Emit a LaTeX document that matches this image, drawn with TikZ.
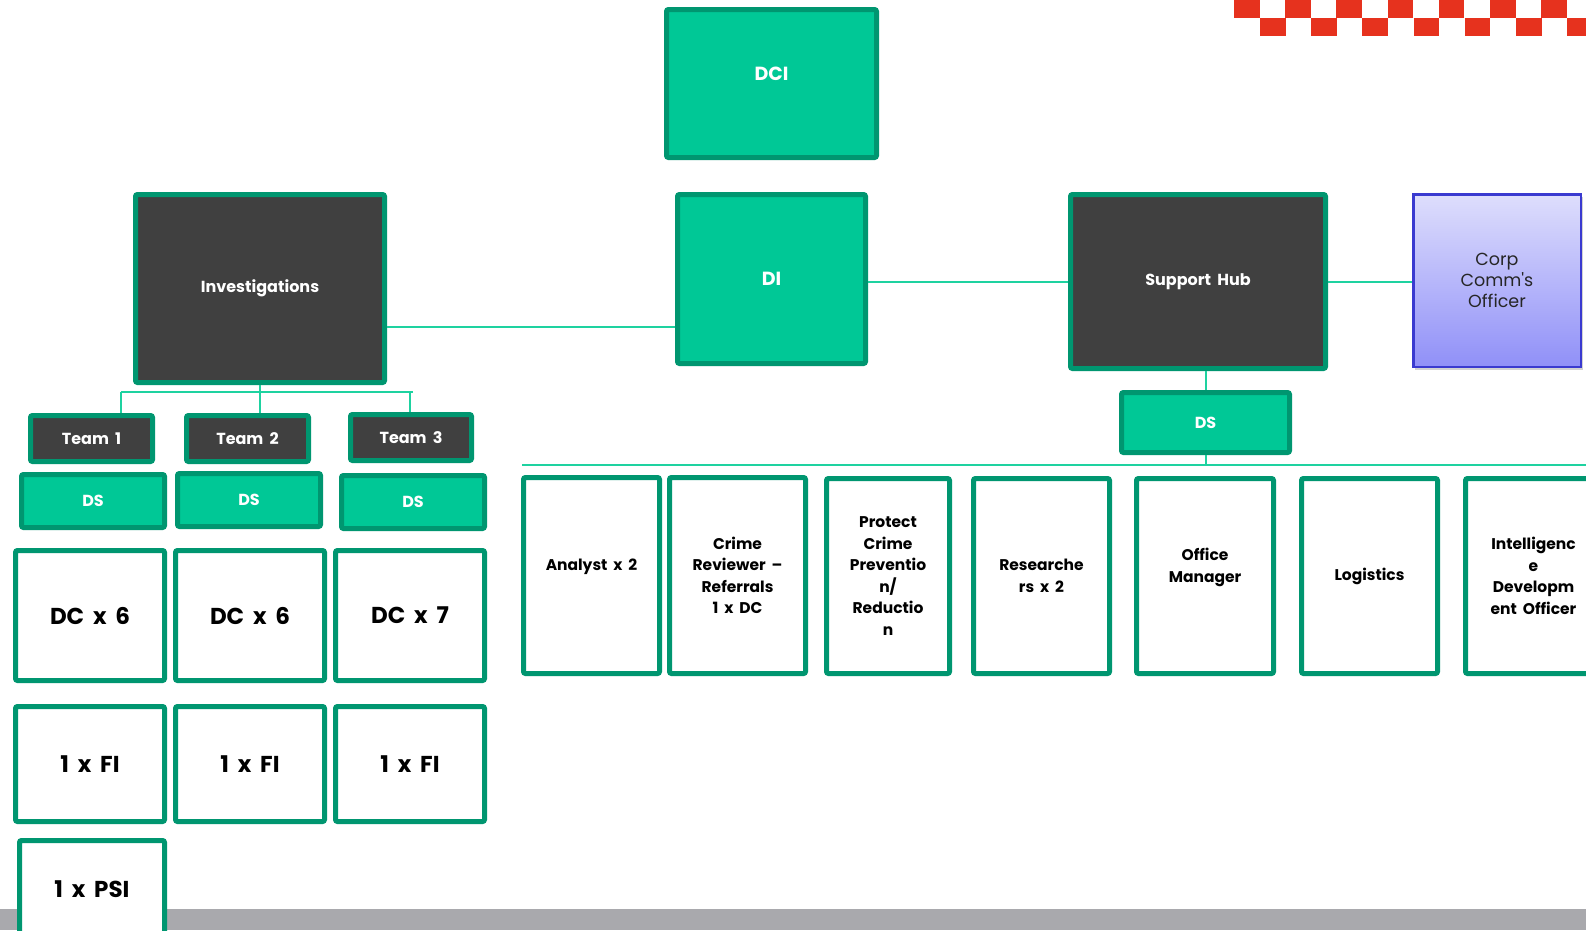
\documentclass[tikz,border=0pt]{standalone}
\usepackage{fontspec}
\setmainfont{Poppins}[WordSpace=1.8]
\newfontfamily\corpfont{Poppins}[Ligatures=TeXOff, WordSpace=1.3]
\usetikzlibrary{shadows}
\definecolor{gfill}{HTML}{00C896}
\definecolor{gline}{HTML}{009670}
\definecolor{conn}{HTML}{1ED2A0}
\definecolor{darkf}{HTML}{404040}
\definecolor{cred}{HTML}{E6321E}
\definecolor{barg}{HTML}{A9A9AD}
\definecolor{cblue}{HTML}{3A3AD0}
\definecolor{ctop}{HTML}{DEDEFC}
\definecolor{cbot}{HTML}{9090F8}
\tikzset{
  basebox/.style={line width=5pt, draw=gline, rounded corners=2pt, align=center, inner sep=0pt},
  gbox/.style={basebox, fill=gfill, text=white},
  dbox/.style={basebox, fill=darkf, text=white},
  wbox/.style={basebox, fill=white, text=black},
  conline/.style={draw=conn, line width=2pt},
  fbig/.style={font=\fontsize{19}{24}\selectfont\bfseries},
  fmid/.style={font=\fontsize{16}{20}\selectfont\bfseries},
  fhuge/.style={font=\fontsize{23}{28}\selectfont\bfseries},
  fsmall/.style={font=\fontsize{15.5}{21.5}\selectfont\bfseries},
}
% \bx{name}{x1}{y1}{x2}{y2}{style}{text}
\newcommand{\bx}[7]{\node[#6, minimum width={(#4-#2-5)*1pt}, minimum height={(#5-#3-5)*1pt}] (#1) at ({(#2+#4)/2},{(#3+#5)/2}) {#7};}
\begin{document}
\begin{tikzpicture}[x=1pt,y=-1pt]
\useasboundingbox (0,0) rectangle (1586,930);
\clip (0,0) rectangle (1586,930);
\fill[white] (0,0) rectangle (1586,930);
% checker pattern
\foreach \i in {0,...,7} {
  \fill[cred] ({1234+51.2*\i},0) rectangle ++(25.6,17.5);
  \fill[cred] ({1260+51.2*\i},17.5) rectangle ++(25.6,18.5);
}
% grey footer bar
\fill[barg] (0,909) rectangle (1586,930);

% top level
\bx{dci}{664}{7}{879}{160}{gbox,fbig}{DCI\\[-4pt]~}
\bx{di}{675}{192}{868}{366}{gbox,fbig}{DI}
\bx{inv}{133}{192}{387}{385}{dbox,fmid}{Investigations}
\bx{hub}{1068}{192}{1328}{371}{dbox,fmid}{Support Hub}
\node[draw=cblue, line width=2.5pt, top color=ctop, bottom color=cbot,
      drop shadow={opacity=0.35, shadow xshift=2pt, shadow yshift=-3pt},
      minimum width=167.5pt, minimum height=172.5pt, align=center, inner sep=0pt,
      font=\corpfont\fontsize{17.5}{21}\selectfont, text=black!85]
      (corp) at (1497,280.5) {Corp\\Comm's\\Officer};
\bx{hds}{1119}{390}{1292}{455}{gbox,fmid}{DS}

% teams
\bx{t1}{28}{413}{155}{464}{dbox,fmid}{Team 1}
\bx{t2}{184}{413}{311}{464}{dbox,fmid}{Team 2}
\bx{t3}{348}{412}{474}{463}{dbox,fmid}{Team 3}
\bx{ds1}{19}{472}{167}{530}{gbox,fmid}{DS}
\bx{ds2}{175}{471}{323}{529}{gbox,fmid}{DS}
\bx{ds3}{339}{473}{487}{531}{gbox,fmid}{DS}
\bx{dc1}{13}{548}{167}{683}{wbox,fhuge}{DC x 6}
\bx{dc2}{173}{548}{327}{683}{wbox,fhuge}{DC x 6}
\bx{dc3}{333}{548}{487}{683}{wbox,fhuge}{DC x 7}
\bx{fi1}{13}{704}{167}{824}{wbox,fhuge}{1 x FI}
\bx{fi2}{173}{704}{327}{824}{wbox,fhuge}{1 x FI}
\bx{fi3}{333}{704}{487}{824}{wbox,fhuge}{1 x FI}
\bx{psi}{17}{838}{167}{940}{wbox,fhuge}{1 x PSI}

% support row
\bx{an}{521}{475}{662}{676}{wbox,fsmall}{Analyst x 2\\~}
\bx{cr}{667}{475}{808}{676}{wbox,fsmall}{Crime\\Reviewer --\\Referrals\\1 x DC}
\bx{pr}{824}{476}{952}{676}{wbox,fsmall}{Protect\\Crime\\Preventio\\n/\\Reductio\\n}
\bx{re}{971}{476}{1112}{676}{wbox,fsmall}{Researche\\rs x 2}
\bx{om}{1134}{476}{1276}{676}{wbox,fsmall}{Office\\Manager\\~}
\bx{lo}{1299}{476}{1440}{676}{wbox,fsmall}{Logistics}
\bx{idev}{1463}{476}{1604}{676}{wbox,fsmall}{Intelligenc\\e\\Developm\\ent Officer}

% connectors
\draw[conline] ([yshift=-38.5pt]inv.east) -- ([yshift=-48pt]di.west);
\draw[conline] (di.east |- hub.west) -- (hub.west);
\draw[conline] (hub.east) -- (corp.west |- hub.east);
\coordinate (barL) at (121,392);
\coordinate (barR) at (413,392);
\draw[conline] (barL) -- (barR);
\draw[conline] (inv.south) -- (inv.south |- t2.north);
\draw[conline] (barL) -- (barL |- t1.north);
\draw[conline] ([xshift=-3pt]barR) -- ([xshift=-3pt]barR |- t3.north);
\draw[conline] (hds.north |- hub.south) -- (hds.north);
\coordinate (lineL) at (522,465);
\coordinate (lineR) at (1586,465);
\draw[conline] (lineL) -- (lineR);
\draw[conline] (hds.south) -- (hds.south |- lineL);
\end{tikzpicture}
\end{document}
